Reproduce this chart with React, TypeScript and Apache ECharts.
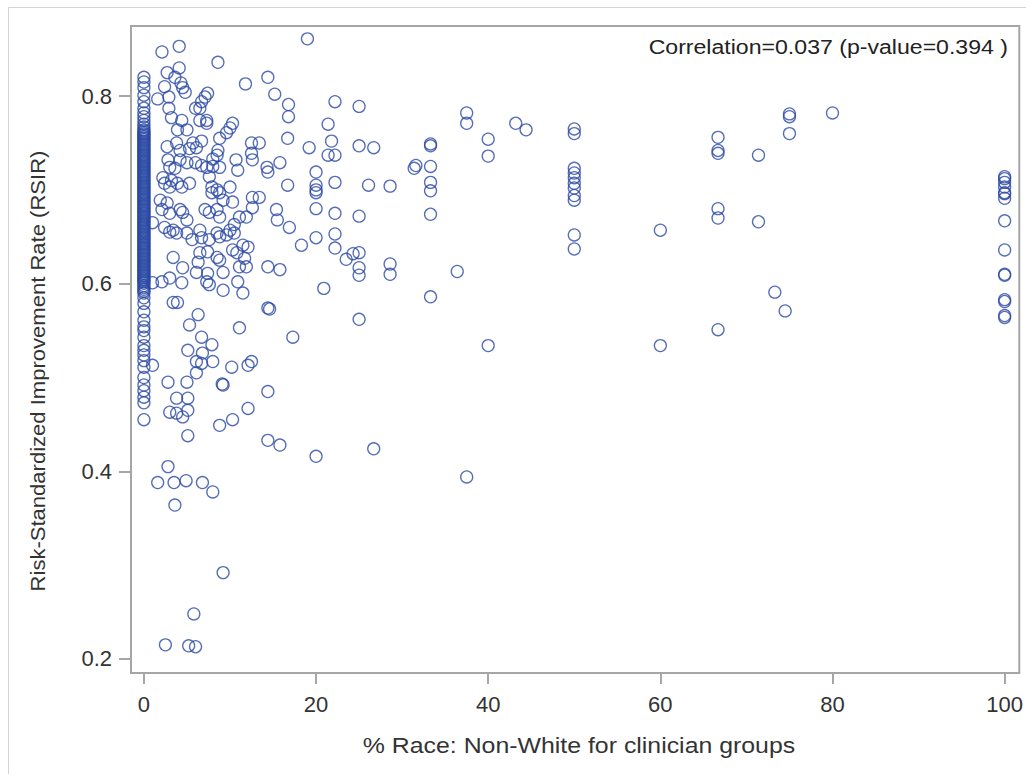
import React, { useEffect, useRef } from "react";
import * as echarts from "echarts";

const xTicks = [0, 20, 40, 60, 80, 100];
const yTicks = [0.2, 0.4, 0.6, 0.8];

// groups with 0% non-white (dense column)
const zeroColumnY = [
  0.82, 0.815, 0.809, 0.801, 0.794, 0.787, 0.782, 0.778, 0.774, 0.77, 0.767, 0.764, 0.761, 0.758,
  0.755, 0.752, 0.749, 0.746, 0.743, 0.74, 0.737, 0.734, 0.731, 0.728, 0.725, 0.722, 0.719, 0.716,
  0.713, 0.71, 0.707, 0.704, 0.701, 0.698, 0.695, 0.692, 0.689, 0.686, 0.683, 0.68, 0.677, 0.674,
  0.671, 0.668, 0.665, 0.662, 0.659, 0.656, 0.653, 0.65, 0.647, 0.644, 0.641, 0.638, 0.635, 0.632,
  0.629, 0.626, 0.623, 0.62, 0.617, 0.614, 0.611, 0.608, 0.605, 0.602, 0.598, 0.594, 0.59, 0.585,
  0.579, 0.57, 0.561, 0.554, 0.55, 0.543, 0.534, 0.529, 0.524, 0.518, 0.511, 0.5, 0.492, 0.486,
  0.479, 0.473, 0.455,
];

// additional 0% groups packed in the solid band of the column
const zeroColumnDenseY = [
  0.7625, 0.7595, 0.7565, 0.7535, 0.7505, 0.7475, 0.7445, 0.7415, 0.7385, 0.7355, 0.7325, 0.7295,
  0.7265, 0.7235, 0.7205, 0.7175, 0.7145, 0.7115, 0.7085, 0.7055, 0.7025, 0.6995, 0.6965, 0.6935,
  0.6905, 0.6875, 0.6845, 0.6815, 0.6785, 0.6755, 0.6725, 0.6695, 0.6665, 0.6635, 0.6605, 0.6575,
  0.6545, 0.6515, 0.6485, 0.6455, 0.6425, 0.6395, 0.6365, 0.6335, 0.6305, 0.6275, 0.6245, 0.6215,
  0.6185, 0.6155, 0.6125, 0.6095, 0.6065, 0.6035, 0.6005, 0.596, 0.592,
];

// groups with 100% non-white
const hundredColumnY = [
  0.714, 0.712, 0.708, 0.703, 0.697, 0.696, 0.691, 0.667, 0.636, 0.61, 0.609, 0.583, 0.581, 0.566, 0.564,
];

const lowShare: [number, number][] = [
  [4.1, 0.853], [2.1, 0.847], [8.6, 0.836], [4.1, 0.83], [2.7, 0.825], [3.6, 0.82], [4.3, 0.814],
  [4.5, 0.809], [4.8, 0.804], [2.4, 0.81], [7.4, 0.803], [7.1, 0.799], [6.7, 0.794], [1.6, 0.797],
  [2.9, 0.799], [2.9, 0.787], [6.0, 0.787], [6.5, 0.787], [7.3, 0.774], [7.3, 0.771], [6.5, 0.774],
  [3.2, 0.777], [4.4, 0.774], [5.0, 0.764], [3.9, 0.764], [9.6, 0.761], [8.8, 0.755], [5.7, 0.75],
  [6.7, 0.752], [6.1, 0.745], [5.3, 0.744], [2.7, 0.746], [3.8, 0.75], [4.2, 0.742], [8.6, 0.742],
  [8.5, 0.737], [8.0, 0.733], [2.8, 0.732], [4.2, 0.732], [5.0, 0.729], [3.0, 0.724], [3.6, 0.723],
  [6.0, 0.729], [6.7, 0.726], [7.3, 0.724], [8.0, 0.725], [8.8, 0.724], [2.2, 0.713], [2.4, 0.707],
  [3.2, 0.71], [3.0, 0.703], [3.9, 0.707], [4.4, 0.703], [5.3, 0.707], [7.6, 0.714], [7.9, 0.703],
  [8.5, 0.7], [8.8, 0.697], [7.9, 0.697], [9.2, 0.689], [1.9, 0.689], [2.7, 0.686], [2.1, 0.679],
  [3.0, 0.675], [4.2, 0.679], [4.5, 0.676], [5.0, 0.668], [7.1, 0.679], [7.6, 0.676], [8.5, 0.679],
  [8.8, 0.671], [1.0, 0.665], [2.4, 0.66], [3.4, 0.657], [5.0, 0.654], [6.5, 0.657], [8.5, 0.654],
  [3.0, 0.655], [3.8, 0.654], [5.6, 0.647], [6.7, 0.649], [7.6, 0.647], [8.8, 0.65], [9.6, 0.652],
  [3.4, 0.628], [6.5, 0.633], [6.3, 0.623], [7.4, 0.634], [8.5, 0.628], [8.8, 0.625], [4.5, 0.617],
  [6.1, 0.612], [7.4, 0.611], [9.2, 0.612], [2.1, 0.602], [3.0, 0.606], [4.4, 0.601], [7.3, 0.602],
  [7.6, 0.599], [9.2, 0.593], [1.0, 0.601], [3.4, 0.58], [3.9, 0.58], [6.3, 0.567], [5.3, 0.556],
  [6.7, 0.543], [7.9, 0.535], [5.1, 0.529], [6.1, 0.517], [6.7, 0.515], [6.8, 0.526], [8.0, 0.517],
  [1.0, 0.513], [9.2, 0.492], [9.1, 0.493], [2.8, 0.495], [5.0, 0.495], [6.1, 0.505], [3.8, 0.478],
  [5.1, 0.478], [3.0, 0.463], [3.8, 0.462], [4.5, 0.458], [5.1, 0.465], [8.8, 0.449], [5.1, 0.438],
  [2.8, 0.405], [1.6, 0.388], [3.5, 0.388], [4.9, 0.39], [6.8, 0.388], [8.0, 0.378], [3.6, 0.364],
  [9.2, 0.292], [5.8, 0.248], [2.5, 0.215], [5.2, 0.214], [6.0, 0.213],
];

const midShare: [number, number][] = [
  [19.0, 0.861], [11.8, 0.813], [14.4, 0.82], [15.2, 0.802], [16.8, 0.791], [16.8, 0.778], [10.3, 0.771],
  [10.0, 0.766], [16.7, 0.755], [19.2, 0.745], [12.5, 0.75], [13.4, 0.75], [12.5, 0.739], [10.7, 0.732],
  [10.9, 0.721], [12.6, 0.732], [14.3, 0.724], [14.4, 0.719], [15.8, 0.729], [16.7, 0.705], [10.0, 0.703],
  [10.3, 0.687], [12.6, 0.692], [13.4, 0.692], [11.1, 0.671], [11.9, 0.671], [12.6, 0.681], [15.4, 0.679],
  [15.5, 0.668], [16.9, 0.66], [10.0, 0.657], [10.5, 0.663], [10.5, 0.654], [10.3, 0.636], [10.8, 0.633],
  [11.5, 0.641], [12.1, 0.639], [11.7, 0.627], [11.9, 0.618], [11.1, 0.618], [14.4, 0.618], [15.8, 0.615],
  [18.3, 0.641], [10.9, 0.602], [11.5, 0.59], [14.4, 0.574], [14.6, 0.573], [11.1, 0.553], [17.3, 0.543],
  [10.2, 0.511], [12.1, 0.513], [12.5, 0.517], [14.4, 0.485], [12.1, 0.467], [10.3, 0.455], [14.4, 0.433],
  [15.8, 0.428],
];

const highShare: [number, number][] = [
  [22.2, 0.794], [25.0, 0.789], [21.4, 0.77], [21.8, 0.752], [21.4, 0.737], [22.2, 0.737], [25.0, 0.747],
  [26.7, 0.745], [33.3, 0.749], [33.3, 0.747], [37.5, 0.782], [37.5, 0.771], [40.0, 0.754], [40.0, 0.736],
  [43.2, 0.771], [44.4, 0.764], [31.4, 0.723], [31.6, 0.726], [33.3, 0.725], [33.3, 0.708], [33.3, 0.699],
  [20.0, 0.719], [20.0, 0.705], [20.0, 0.7], [20.0, 0.697], [22.2, 0.708], [26.1, 0.705], [28.6, 0.704],
  [20.0, 0.68], [22.2, 0.675], [25.0, 0.672], [33.3, 0.674], [22.2, 0.653], [20.0, 0.649], [22.2, 0.638],
  [23.5, 0.626], [24.3, 0.632], [25.0, 0.633], [25.0, 0.617], [25.0, 0.609], [28.6, 0.621], [28.6, 0.61],
  [36.4, 0.613], [20.9, 0.595], [33.3, 0.586], [25.0, 0.562], [40.0, 0.534], [20.0, 0.416], [26.7, 0.424],
  [37.5, 0.394],
  [50, 0.765], [50, 0.76], [50, 0.723], [50, 0.718], [50, 0.713], [50, 0.707], [50, 0.702], [50, 0.694],
  [50, 0.689], [50, 0.652], [50, 0.637], [60, 0.657], [60, 0.534], [66.7, 0.756], [66.7, 0.742],
  [66.7, 0.739], [66.7, 0.68], [66.7, 0.67], [66.7, 0.551], [71.4, 0.737], [71.4, 0.666], [73.3, 0.591],
  [74.5, 0.571], [75, 0.781], [75, 0.778], [75, 0.76], [80, 0.782],
];

const FONT = '"Liberation Sans", Arial, Helvetica, sans-serif';
const FRAME = "#a6a6a6";

export default function App() {
  const ref = useRef<HTMLDivElement>(null);
  useEffect(() => {
    const chart = echarts.init(ref.current!, null, { renderer: "svg" });
    const data = [
      ...zeroColumnY.map((y) => [0, y]),
      ...zeroColumnDenseY.map((y) => [0, y]),
      ...lowShare,
      ...midShare,
      ...highShare,
      ...hundredColumnY.map((y) => [100, y]),
    ];
    chart.setOption({
      animation: false,
      backgroundColor: "#ffffff",
      grid: {
        left: 131,
        top: 26,
        right: 4,
        bottom: 101,
        show: true,
        borderColor: FRAME,
        borderWidth: 2,
        backgroundColor: "transparent",
      },
      xAxis: {
        type: "value",
        min: -1.5,
        max: 101.7,
        axisLine: { show: true, onZero: false, lineStyle: { color: FRAME, width: 2 } },
        axisTick: { show: true, length: 11, customValues: xTicks, lineStyle: { color: FRAME, width: 2 } },
        axisLabel: { customValues: xTicks, margin: 20, fontSize: 22, color: "#333", fontFamily: FONT },
        splitLine: { show: false },
      },
      yAxis: {
        type: "value",
        min: 0.185,
        max: 0.8747,
        axisLine: { show: true, onZero: false, lineStyle: { color: FRAME, width: 2 } },
        axisTick: { show: true, length: 12, customValues: yTicks, lineStyle: { color: FRAME, width: 2 } },
        axisLabel: {
          customValues: yTicks,
          margin: 19,
          fontSize: 22,
          color: "#333",
          fontFamily: FONT,
          formatter: (v: number) => v.toFixed(1),
        },
        splitLine: { show: false },
      },
      graphic: [
        {
          type: "rect",
          silent: true,
          z: -10,
          shape: { x: 8.5, y: 7.5, width: 1040, height: 800 },
          style: { fill: "none", stroke: "#d4d4d4", lineWidth: 1 },
        },
        {
          type: "text",
          x: 1008,
          y: 47,
          scaleX: 1.1,
          style: {
            text: "Correlation=0.037 (p-value=0.394 )",
            fontSize: 21,
            fontFamily: FONT,
            fill: "#222",
            align: "right",
            verticalAlign: "middle",
          },
        },
        {
          type: "text",
          x: 579,
          y: 746,
          scaleX: 1.13,
          style: {
            text: "% Race: Non-White for clinician groups",
            fontSize: 22,
            fontFamily: FONT,
            fill: "#333",
            align: "center",
            verticalAlign: "middle",
          },
        },
        {
          type: "text",
          x: 38,
          y: 371,
          rotation: Math.PI / 2,
          scaleX: 1.05,
          style: {
            text: "Risk-Standardized Improvement Rate (RSIR)",
            fontSize: 21,
            fontFamily: FONT,
            fill: "#333",
            align: "center",
            verticalAlign: "middle",
          },
        },
      ],
      series: [
        {
          type: "scatter",
          data,
          symbol: "circle",
          symbolSize: 12,
          silent: true,
          itemStyle: { color: "rgba(255,255,255,0)", borderColor: "#2a49a4", borderWidth: 1.3 },
        },
      ],
    });
    return () => chart.dispose();
  }, []);
  return (
    <div
      ref={ref}
      style={{ position: "fixed", left: 0, top: 0, width: 1026, height: 774, background: "#fff" }}
    />
  );
}
